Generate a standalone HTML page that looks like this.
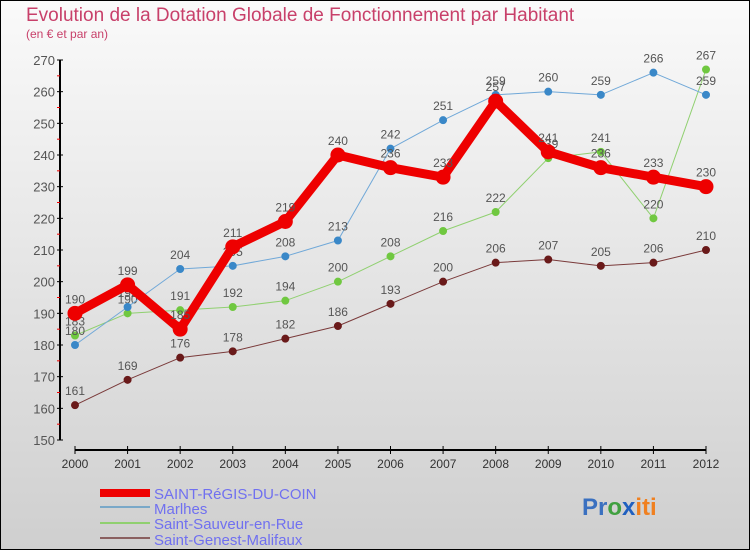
<!DOCTYPE html>
<html><head><meta charset="utf-8"><style>
body{margin:0}
#c{width:750px;height:550px;position:relative;box-sizing:border-box;border:1px solid #000;background:linear-gradient(#fafafa,#cfcfcf);font-family:"Liberation Sans",sans-serif;overflow:hidden}
</style></head><body>
<div id="c">
<svg id="s" width="750" height="550" style="position:absolute;left:-1px;top:-1px">
<text x="26" y="21" font-size="19" fill="#c8406a">Evolution de la Dotation Globale de Fonctionnement par Habitant</text>
<text x="26" y="38" font-size="12" fill="#c8406a">(en € et par an)</text>
<g id="ax"></g><g id="ser"></g>
<g font-size="15" fill="#7070f0">
<rect x="100" y="489" width="50" height="8" fill="#e00"/>
<text x="154" y="499">SAINT-RéGIS-DU-COIN</text>
<rect x="100" y="506" width="50" height="2" fill="#7aa8c8"/>
<text x="154" y="514">Marlhes</text>
<rect x="100" y="522" width="50" height="2" fill="#90d070"/>
<text x="154" y="529">Saint-Sauveur-en-Rue</text>
<rect x="100" y="537" width="50" height="2" fill="#8a6060"/>
<text x="154" y="545">Saint-Genest-Malifaux</text>
</g>
<text x="582" y="515" font-size="24" font-weight="bold"><tspan fill="#3a70c0">Pr</tspan><tspan fill="#40a040">o</tspan><tspan fill="#2060c0">x</tspan><tspan fill="#f08020">iti</tspan></text>
</svg>
</div>
<script>
const years=[2000,2001,2002,2003,2004,2005,2006,2007,2008,2009,2010,2011,2012];
const yTicks=[150,160,170,180,190,200,210,220,230,240,250,260,270];
const regis=[190,199,185,211,219,240,236,233,257,241,236,233,230];
const marlhes=[180,192,204,205,208,213,242,251,259,260,259,266,259];
const sauveur=[183,190,191,192,194,200,208,216,222,239,241,220,267];
const genest=[161,169,176,178,182,186,193,200,206,207,205,206,210];
const NS="http://www.w3.org/2000/svg";
function X(i){return 75+i*(706-75)/(years.length-1);}
function Y(v){return 440-(v-150)*(380/120);}
function mk(t,a,p){const e=document.createElementNS(NS,t);for(const k in a)e.setAttribute(k,a[k]);p.appendChild(e);return e;}
const ax=document.getElementById('ax');
let l=mk('line',{x1:60,y1:Y(270),x2:60,y2:Y(150),stroke:'#000','stroke-width':2},ax);


yTicks.forEach(v=>{
 mk('line',{x1:57,x2:63,y1:Y(v),y2:Y(v),stroke:'#000'},ax);
 if(v<270)mk('line',{x1:57,x2:60,y1:Y(v+5),y2:Y(v+5),stroke:'#e00'},ax);
 const t=mk('text',{x:55,y:Y(v)+5,'font-size':13,fill:'#555','text-anchor':'end'},ax);t.textContent=v;
 
 
});
l=mk('line',{x1:75,y1:450,x2:706,y2:450,stroke:'#000','stroke-width':2},ax);


years.forEach((y,i)=>{
 mk('line',{x1:X(i),x2:X(i),y1:446,y2:454,stroke:'#000'},ax);
 const t=mk('text',{x:X(i),y:468,'font-size':12,fill:'#333','text-anchor':'middle'},ax);t.textContent=y;
 
 
});
const ser=document.getElementById('ser');
function draw(d,name,col,dot,w,r){
 const g=mk('g',{},ser);
 
 
 const p=mk('polyline',{points:d.map((v,i)=>X(i)+','+Y(v)).join(' '),fill:'none',stroke:col,'stroke-width':w,'stroke-linejoin':'round'},g);
 
 
 d.forEach((v,i)=>{
  const c=mk('circle',{cx:X(i),cy:Y(v),r:r,fill:dot,stroke:dot},g);
  
  
  const t=mk('text',{x:X(i),y:Y(v)-10,'font-size':12,fill:'#555','text-anchor':'middle'},g);t.textContent=v;
  
  
 });
}
draw(genest,'saint-genest','#7a3a3a','#6a1a1a',1,3.5);
draw(sauveur,'saint-sauveur','#90d070','#70c840',1,3.5);
draw(marlhes,'marlhes','#70a8d8','#3a88c8',1,3.5);
draw(regis,'saint-regis','#ee0000','#ee0000',9,7);
</script>
</body></html>
